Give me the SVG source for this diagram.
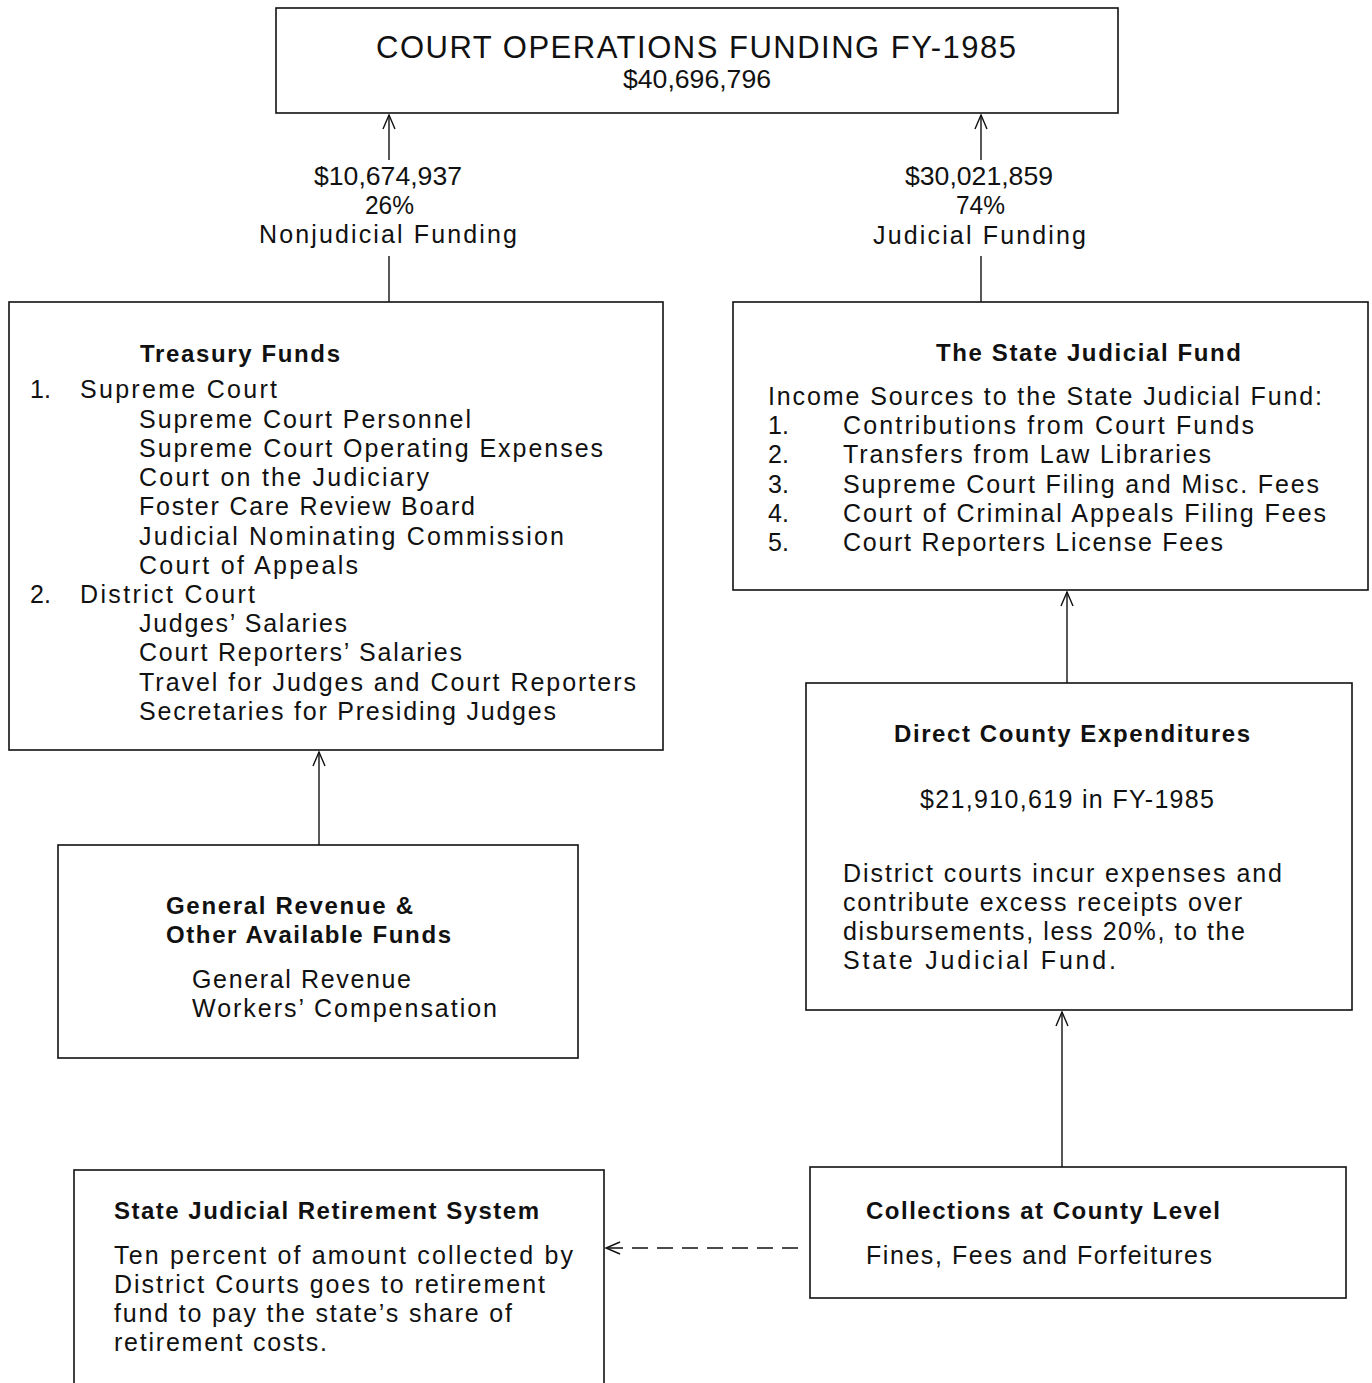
<svg xmlns="http://www.w3.org/2000/svg" width="1372" height="1383" viewBox="0 0 1372 1383">
<defs>
<style>
.box{fill:#fff;stroke:#111;stroke-width:1.6}
.t{font-family:"Liberation Sans",Arial,sans-serif;font-size:25px;fill:#111}
.b{font-family:"Liberation Sans",Arial,sans-serif;font-size:24px;font-weight:bold;fill:#111}
.h{font-family:"Liberation Sans",Arial,sans-serif;font-size:31px;fill:#111}
.c{fill:none;stroke:#111;stroke-width:1.4}
.d{fill:none;stroke:#111;stroke-width:1.4;stroke-dasharray:16,9}
</style>
<marker id="ah" viewBox="-16 -8 18 16" refX="0" refY="0" markerWidth="18" markerHeight="16" markerUnits="userSpaceOnUse" orient="auto">
<path d="M-14,-6 L0,0 L-14,6" fill="none" stroke="#111" stroke-width="1.4"/>
</marker>
</defs>
<rect width="1372" height="1383" fill="#fff"/>

<g id="connectors">
<line class="c" x1="389" y1="160" x2="389" y2="115" marker-end="url(#ah)"/>
<line class="c" x1="389" y1="256" x2="389" y2="302"/>
<line class="c" x1="981" y1="160" x2="981" y2="115" marker-end="url(#ah)"/>
<line class="c" x1="981" y1="256" x2="981" y2="302"/>
<line class="c" x1="319" y1="845" x2="319" y2="752" marker-end="url(#ah)"/>
<line class="c" x1="1067" y1="683" x2="1067" y2="592" marker-end="url(#ah)"/>
<line class="c" x1="1062" y1="1167" x2="1062" y2="1012" marker-end="url(#ah)"/>
<line class="d" x1="798" y1="1248" x2="606" y2="1248" marker-end="url(#ah)"/>
<g id="labels">
<text class="t" x="314" y="185" textLength="148" lengthAdjust="spacingAndGlyphs">$10,674,937</text>
<text class="t" x="365" y="214" textLength="49" lengthAdjust="spacingAndGlyphs">26%</text>
<text class="t" x="259" y="243" textLength="258" lengthAdjust="spacing">Nonjudicial Funding</text>
<text class="t" x="905" y="185" textLength="148" lengthAdjust="spacingAndGlyphs">$30,021,859</text>
<text class="t" x="956" y="214" textLength="49" lengthAdjust="spacingAndGlyphs">74%</text>
<text class="t" x="873" y="244" textLength="213" lengthAdjust="spacing">Judicial Funding</text>
</g>
</g>

<g id="top">
<rect class="box" x="276" y="8" width="842" height="105"/>
<text class="h" x="376" y="58" textLength="640" lengthAdjust="spacing">COURT OPERATIONS FUNDING FY-1985</text>
<text class="t" x="623" y="88" textLength="148" lengthAdjust="spacingAndGlyphs">$40,696,796</text>
</g>

<g id="treasury">
<rect class="box" x="9" y="302" width="654" height="448"/>
<text class="b" x="140" y="362" textLength="200" lengthAdjust="spacing">Treasury Funds</text>
<text class="t" x="30" y="398">1.</text>
<text class="t" x="80" y="398" textLength="197" lengthAdjust="spacing">Supreme Court</text>
<text class="t" x="139" y="428" textLength="332" lengthAdjust="spacing">Supreme Court Personnel</text>
<text class="t" x="139" y="457" textLength="464" lengthAdjust="spacing">Supreme Court Operating Expenses</text>
<text class="t" x="139" y="486" textLength="290" lengthAdjust="spacing">Court on the Judiciary</text>
<text class="t" x="139" y="515" textLength="336" lengthAdjust="spacing">Foster Care Review Board</text>
<text class="t" x="139" y="545" textLength="425" lengthAdjust="spacing">Judicial Nominating Commission</text>
<text class="t" x="139" y="574" textLength="219" lengthAdjust="spacing">Court of Appeals</text>
<text class="t" x="30" y="603">2.</text>
<text class="t" x="80" y="603" textLength="175" lengthAdjust="spacing">District Court</text>
<text class="t" x="139" y="632" textLength="208" lengthAdjust="spacing">Judges’ Salaries</text>
<text class="t" x="139" y="661" textLength="323" lengthAdjust="spacing">Court Reporters’ Salaries</text>
<text class="t" x="139" y="691" textLength="497" lengthAdjust="spacing">Travel for Judges and Court Reporters</text>
<text class="t" x="139" y="720" textLength="417" lengthAdjust="spacing">Secretaries for Presiding Judges</text>
</g>

<g id="state-judicial-fund">
<rect class="box" x="733" y="302" width="635" height="288"/>
<text class="b" x="936" y="361" textLength="305" lengthAdjust="spacing">The State Judicial Fund</text>
<text class="t" x="768" y="405" textLength="554" lengthAdjust="spacing">Income Sources to the State Judicial Fund:</text>
<text class="t" x="768" y="434">1.</text>
<text class="t" x="843" y="434" textLength="411" lengthAdjust="spacing">Contributions from Court Funds</text>
<text class="t" x="768" y="463">2.</text>
<text class="t" x="843" y="463" textLength="368" lengthAdjust="spacing">Transfers from Law Libraries</text>
<text class="t" x="768" y="493">3.</text>
<text class="t" x="843" y="493" textLength="476" lengthAdjust="spacing">Supreme Court Filing and Misc. Fees</text>
<text class="t" x="768" y="522">4.</text>
<text class="t" x="843" y="522" textLength="483" lengthAdjust="spacing">Court of Criminal Appeals Filing Fees</text>
<text class="t" x="768" y="551">5.</text>
<text class="t" x="843" y="551" textLength="380" lengthAdjust="spacing">Court Reporters License Fees</text>
</g>

<g id="general-revenue">
<rect class="box" x="58" y="845" width="520" height="213"/>
<text class="b" x="166" y="914" textLength="247" lengthAdjust="spacing">General Revenue &amp;</text>
<text class="b" x="166" y="943" textLength="285" lengthAdjust="spacing">Other Available Funds</text>
<text class="t" x="192" y="988" textLength="219" lengthAdjust="spacing">General Revenue</text>
<text class="t" x="192" y="1017" textLength="305" lengthAdjust="spacing">Workers’ Compensation</text>
</g>

<g id="direct-county">
<rect class="box" x="806" y="683" width="546" height="327"/>
<text class="b" x="894" y="742" textLength="356" lengthAdjust="spacing">Direct County Expenditures</text>
<text class="t" x="920" y="808" textLength="294" lengthAdjust="spacing">$21,910,619 in FY-1985</text>
<text class="t" x="843" y="882" textLength="439" lengthAdjust="spacing">District courts incur expenses and</text>
<text class="t" x="843" y="911" textLength="399" lengthAdjust="spacing">contribute excess receipts over</text>
<text class="t" x="843" y="940" textLength="402" lengthAdjust="spacing">disbursements, less 20%, to the</text>
<text class="t" x="843" y="969" textLength="273" lengthAdjust="spacing">State Judicial Fund.</text>
</g>

<g id="collections">
<rect class="box" x="810" y="1167" width="536" height="131"/>
<text class="b" x="866" y="1219" textLength="354" lengthAdjust="spacing">Collections at County Level</text>
<text class="t" x="866" y="1264" textLength="346" lengthAdjust="spacing">Fines, Fees and Forfeitures</text>
</g>

<g id="retirement">
<rect class="box" x="74" y="1170" width="530" height="230"/>
<text class="b" x="114" y="1219" textLength="425" lengthAdjust="spacing">State Judicial Retirement System</text>
<text class="t" x="114" y="1264" textLength="459" lengthAdjust="spacing">Ten percent of amount collected by</text>
<text class="t" x="114" y="1293" textLength="431" lengthAdjust="spacing">District Courts goes to retirement</text>
<text class="t" x="114" y="1322" textLength="398" lengthAdjust="spacing">fund to pay the state’s share of</text>
<text class="t" x="114" y="1351" textLength="213" lengthAdjust="spacing">retirement costs.</text>
</g>
</svg>
